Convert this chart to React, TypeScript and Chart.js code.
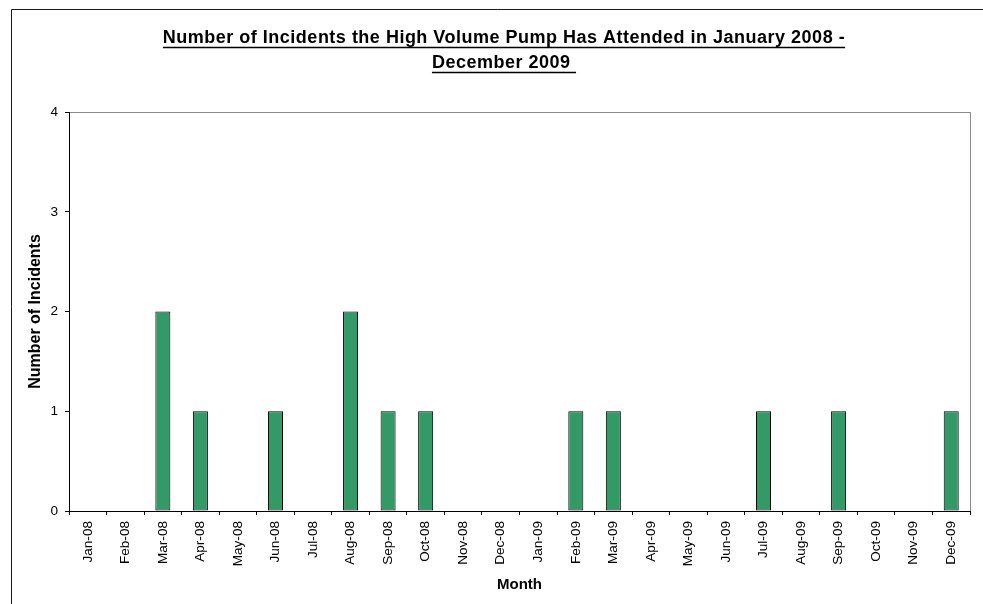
import React, { useEffect, useRef } from "react";
import { Chart, registerables } from "chart.js";

Chart.register(...registerables);

const months = [
  "Jan-08", "Feb-08", "Mar-08", "Apr-08", "May-08", "Jun-08",
  "Jul-08", "Aug-08", "Sep-08", "Oct-08", "Nov-08", "Dec-08",
  "Jan-09", "Feb-09", "Mar-09", "Apr-09", "May-09", "Jun-09",
  "Jul-09", "Aug-09", "Sep-09", "Oct-09", "Nov-09", "Dec-09",
];
const incidents = [0, 0, 2, 1, 0, 1, 0, 2, 1, 1, 0, 0, 0, 1, 1, 0, 0, 0, 1, 0, 1, 0, 0, 1];
const yMin = 0;
const yMax = 4;
const yStep = 1;
const titleLines = [
  "Number of Incidents the High Volume Pump Has Attended in January 2008 -",
  "December 2009 ",
];
const xTitle = "Month";
const yTitle = "Number of Incidents";

const FONT = "'Liberation Sans', Arial, Helvetica, sans-serif";

const framePlugin = {
  id: "frameAndTitle",
  beforeDraw(chart: any) {
    const { ctx, chartArea } = chart;
    ctx.save();
    ctx.strokeStyle = "#1a1a1a";
    ctx.lineWidth = 1;
    ctx.beginPath();
    ctx.moveTo(11.5, 604);
    ctx.lineTo(11.5, 9.5);
    ctx.lineTo(983, 9.5);
    ctx.stroke();
    ctx.strokeStyle = "#8c8c8c";
    ctx.strokeRect(
      Math.round(chartArea.left) + 0.5,
      Math.round(chartArea.top) + 0.5,
      Math.round(chartArea.right - chartArea.left),
      Math.round(chartArea.bottom - chartArea.top)
    );
    ctx.fillStyle = "#000";
    ctx.strokeStyle = "#000";
    ctx.font = `bold 18px ${FONT}`;
    try {
      (ctx as any).letterSpacing = "0.5px";
    } catch (e) {}
    ctx.textAlign = "left";
    ctx.textBaseline = "alphabetic";
    const cx = 504;
    const baselines = [43, 68];
    titleLines.forEach((line, i) => {
      const y = baselines[i];
      const w = ctx.measureText(line).width;
      const x0 = cx - w / 2;
      ctx.fillText(line, x0, y);
      ctx.lineWidth = 1.6;
      ctx.beginPath();
      ctx.moveTo(x0, y + 4.5);
      ctx.lineTo(x0 + w, y + 4.5);
      ctx.stroke();
    });
    ctx.restore();
  },
};

export default function App() {
  const ref = useRef<HTMLCanvasElement | null>(null);

  useEffect(() => {
    if (!ref.current) return;
    const chart = new Chart(ref.current, {
      type: "bar",
      data: {
        labels: months,
        datasets: [
          {
            data: incidents,
            backgroundColor: "#339966",
            borderColor: "#000000",
            borderWidth: 1,
            borderSkipped: false,
            barPercentage: 0.4,
            categoryPercentage: 1,
          },
        ],
      },
      options: {
        responsive: false,
        animation: false,
        layout: { padding: { top: 112, right: 13, left: 0, bottom: 0 } },
        plugins: {
          legend: { display: false },
          title: { display: false },
          tooltip: { enabled: false },
        },
        scales: {
          x: {
            type: "category",
            grid: {
              offset: true,
              drawOnChartArea: false,
              drawTicks: true,
              tickLength: 4,
              color: "#000",
            },
            border: { color: "#000", width: 1 },
            ticks: {
              autoSkip: false,
              maxRotation: 90,
              minRotation: 90,
              padding: 6,
              color: "#000",
              font: { family: FONT, size: 13.6 },
            },
            title: {
              display: true,
              text: xTitle,
              color: "#000",
              font: { family: FONT, size: 15, weight: "bold" },
              padding: { top: 0, bottom: 10 },
            },
            afterFit: (s: any) => {
              s.height = 93;
            },
          },
          y: {
            min: yMin,
            max: yMax,
            grid: {
              drawOnChartArea: false,
              drawTicks: true,
              tickLength: 4,
              color: "#000",
            },
            border: { color: "#000", width: 1 },
            ticks: {
              stepSize: yStep,
              padding: 7,
              color: "#000",
              font: { family: FONT, size: 13.6 },
            },
            title: {
              display: true,
              text: yTitle,
              color: "#000",
              font: { family: FONT, size: 16, weight: "bold" },
              padding: { top: 26, bottom: 0 },
            },
            afterFit: (s: any) => {
              s.width = 69;
            },
          },
        },
      } as any,
      plugins: [framePlugin],
    });
    return () => chart.destroy();
  }, []);

  return (
    <div style={{ position: "absolute", left: 0, top: 0, width: 983, height: 604, background: "#fff" }}>
      <canvas ref={ref} width={983} height={604} style={{ display: "block" }} />
    </div>
  );
}
